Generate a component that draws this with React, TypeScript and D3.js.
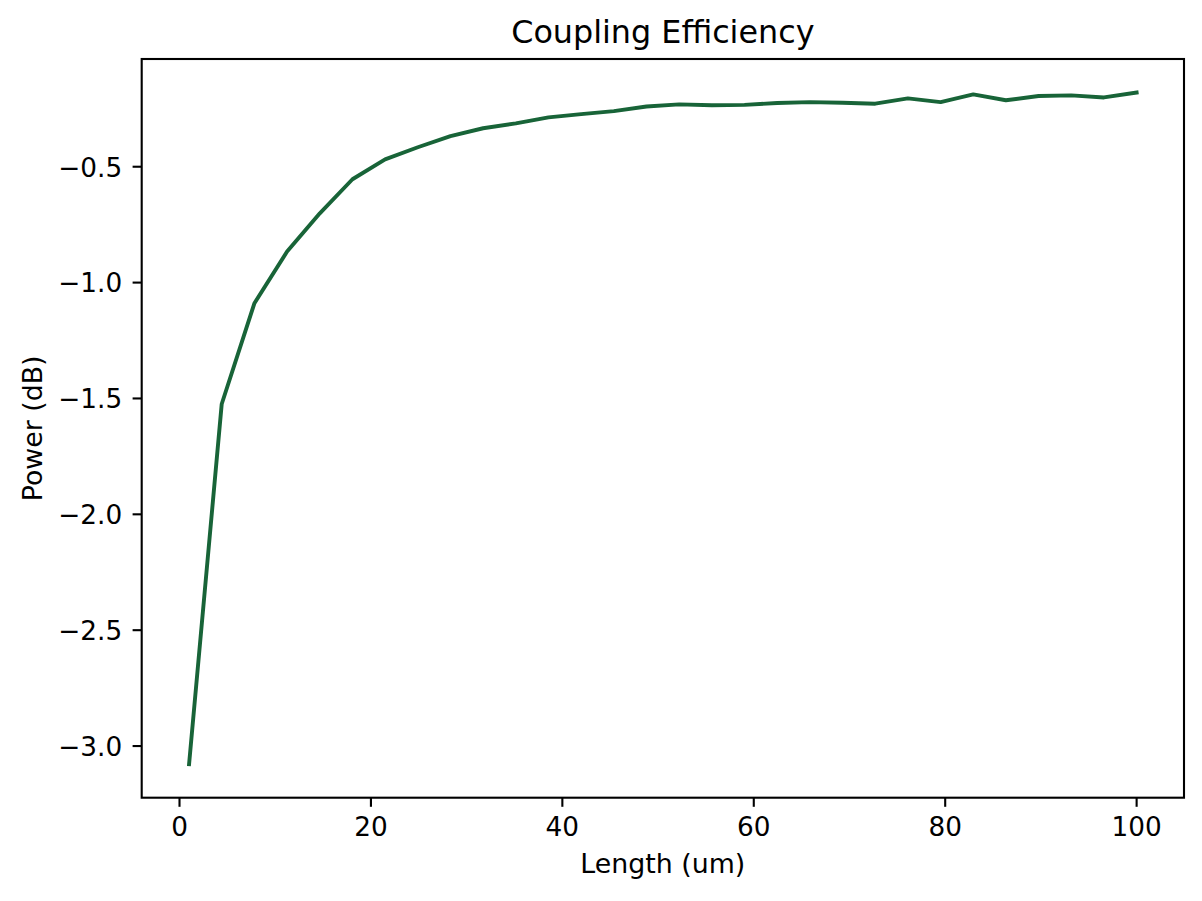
import React, { useRef, useEffect } from 'react';
import * as d3 from 'd3';

// lengths (um): 30 samples from 1 to 100
const lengths: number[] = [
  1, 4.41, 7.83, 11.24, 14.66, 18.07, 21.48, 24.9, 28.31, 31.72,
  35.14, 38.55, 41.97, 45.38, 48.79, 52.21, 55.62, 59.03, 62.45, 65.86,
  69.28, 72.69, 76.1, 79.52, 82.93, 86.34, 89.76, 93.17, 96.59, 100,
];

// power (dB)
const power: number[] = [
  -3.078, -1.524, -1.089, -0.866, -0.701, -0.554, -0.468, -0.416, -0.368, -0.334,
  -0.313, -0.287, -0.273, -0.26, -0.24, -0.231, -0.235, -0.233, -0.225, -0.221,
  -0.224, -0.228, -0.205, -0.221, -0.188, -0.213, -0.195, -0.192, -0.201, -0.18,
];

const xTicks: number[] = [0, 20, 40, 60, 80, 100];
const yTicks: number[] = [-3.0, -2.5, -2.0, -1.5, -1.0, -0.5];

const title = 'Coupling Efficiency';
const xLabel = 'Length (um)';
const yLabel = 'Power (dB)';

const App: React.FC = () => {
  const svgRef = useRef<SVGSVGElement>(null);

  const width = 1202;
  const height = 901;
  const margin = { top: 59, right: 18, bottom: 103.3, left: 141.7 };
  const font = 'DejaVu Sans, sans-serif';
  const tickSize = 26.3;

  useEffect(() => {
    if (!svgRef.current) return;
    const svg = d3.select(svgRef.current);
    svg.selectAll('*').remove();

    const data = lengths.map((x, i) => ({ x, y: power[i] }));

    // matplotlib style 5% padding
    const [x0, x1] = d3.extent(lengths) as [number, number];
    const [y0, y1] = d3.extent(power) as [number, number];
    const px = (x1 - x0) * 0.05;
    const py = (y1 - y0) * 0.05;

    const xScale = d3.scaleLinear()
      .domain([x0 - px, x1 + px])
      .range([margin.left, width - margin.right]);
    const yScale = d3.scaleLinear()
      .domain([y0 - py, y1 + py])
      .range([height - margin.bottom, margin.top]);

    const left = margin.left;
    const right = width - margin.right;
    const top = margin.top;
    const bottom = height - margin.bottom;

    // 折线
    const line = d3.line<{ x: number; y: number }>()
      .x(d => xScale(d.x))
      .y(d => yScale(d.y));
    svg.append('path')
      .attr('d', line(data))
      .attr('fill', 'none')
      .attr('stroke', '#186438')
      .attr('stroke-width', 3.9)
      .attr('stroke-linejoin', 'round')
      .attr('stroke-linecap', 'square');

    // 边框
    svg.append('rect')
      .attr('x', left)
      .attr('y', top)
      .attr('width', right - left)
      .attr('height', bottom - top)
      .attr('fill', 'none')
      .attr('stroke', '#000')
      .attr('stroke-width', 2.1);

    // x 轴刻度
    const xg = svg.append('g');
    xg.selectAll('line')
      .data(xTicks)
      .join('line')
      .attr('x1', d => xScale(d))
      .attr('x2', d => xScale(d))
      .attr('y1', bottom)
      .attr('y2', bottom + 9.1)
      .attr('stroke', '#000')
      .attr('stroke-width', 2.1);
    xg.selectAll('text')
      .data(xTicks)
      .join('text')
      .attr('x', d => xScale(d))
      .attr('y', bottom + 38.5)
      .attr('text-anchor', 'middle')
      .attr('font-family', font)
      .attr('font-size', tickSize)
      .text(d => d3.format('d')(d));

    // y 轴刻度
    const yg = svg.append('g');
    yg.selectAll('line')
      .data(yTicks)
      .join('line')
      .attr('x1', left)
      .attr('x2', left - 9.1)
      .attr('y1', d => yScale(d))
      .attr('y2', d => yScale(d))
      .attr('stroke', '#000')
      .attr('stroke-width', 2.1);
    yg.selectAll('text')
      .data(yTicks)
      .join('text')
      .attr('x', left - 19.5)
      .attr('y', d => yScale(d) + 9.8)
      .attr('text-anchor', 'end')
      .attr('font-family', font)
      .attr('font-size', tickSize)
      .text(d => d3.format('.1f')(d).replace('-', '\u2212'));

    // 标题和轴标签
    svg.append('text')
      .attr('x', (left + right) / 2)
      .attr('y', top - 16)
      .attr('text-anchor', 'middle')
      .attr('font-family', font)
      .attr('font-size', 31.8)
      .text(title);

    svg.append('text')
      .attr('x', (left + right) / 2)
      .attr('y', 872.5)
      .attr('text-anchor', 'middle')
      .attr('font-family', font)
      .attr('font-size', 26.8)
      .text(xLabel);

    svg.append('text')
      .attr('transform', `translate(41.5,${(top + bottom) / 2}) rotate(-90)`)
      .attr('text-anchor', 'middle')
      .attr('font-family', font)
      .attr('font-size', 26.8)
      .text(yLabel);
  }, []);

  return (
    <svg
      ref={svgRef}
      width={width}
      height={height}
      style={{ position: 'absolute', left: 0, top: 0, background: '#fff' }}
    />
  );
};

export default App;
